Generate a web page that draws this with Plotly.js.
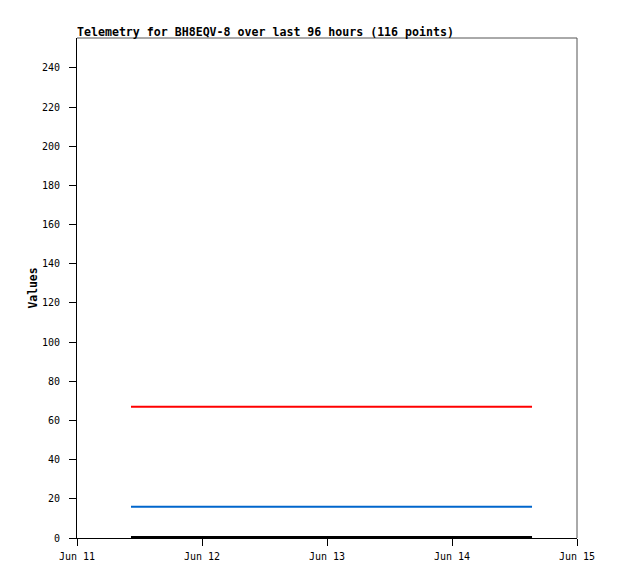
<!DOCTYPE html>
<html>
<head>
<meta charset="utf-8">
<script src="https://cdn.plot.ly/plotly-3.0.1.min.js"></script>
<style>html,body{margin:0;padding:0;background:#fff;}#chart{width:618px;height:579px;}</style>
</head>
<body>
<div id="chart"></div>
<script>
var times = ["2024-06-11 10:22", "2024-06-11 22:00", "2024-06-12 10:00", "2024-06-12 22:00", "2024-06-13 10:00", "2024-06-13 22:00", "2024-06-14 10:00", "2024-06-14 15:22"];
var seriesRed = [67, 67, 67, 67, 67, 67, 67, 67];
var seriesBlue = [16, 16, 16, 16, 16, 16, 16, 16];
var seriesBlack = [0.5, 0.5, 0.5, 0.5, 0.5, 0.5, 0.5, 0.5];
var xTickVals = ["2024-06-11", "2024-06-12", "2024-06-13", "2024-06-14", "2024-06-15"];
var xTickText = ["Jun 11", "Jun 12", "Jun 13", "Jun 14", "Jun 15"];
var yTickVals = [0, 20, 40, 60, 80, 100, 120, 140, 160, 180, 200, 220, 240];

var mono = "DejaVu Sans Mono, monospace";
var traces = [
  {x: times, y: seriesRed, mode: "lines", line: {color: "#ff0000", width: 2}, hoverinfo: "skip"},
  {x: times, y: seriesBlue, mode: "lines", line: {color: "#0066cc", width: 2}, hoverinfo: "skip"},
  {x: times, y: seriesBlack, mode: "lines", line: {color: "#000000", width: 2}, hoverinfo: "skip"}
];
var layout = {
  width: 618, height: 579,
  margin: {l: 77, r: 41, t: 38, b: 41, pad: 0},
  paper_bgcolor: "#fff", plot_bgcolor: "#fff",
  showlegend: false,
  title: {text: "<b>Telemetry for BH8EQV-8 over last 96 hours (116 points)</b>", font: {family: mono, size: 11.6, color: "#000"}, x: 0, xref: "paper", xanchor: "left", y: 1, yref: "paper", yanchor: "bottom", pad: {b: 2}},
  xaxis: {type: "date", range: ["2024-06-11", "2024-06-15"], tickvals: xTickVals, ticktext: xTickText, ticks: "outside", ticklen: 7, tickcolor: "#000", showgrid: false, zeroline: false, showline: true, linecolor: "#000", linewidth: 1, tickfont: {family: mono, size: 10, color: "#000"}, ticklabelstandoff: 2, fixedrange: true},
  yaxis: {range: [0, 255.3], tickvals: yTickVals, ticks: "outside", ticklen: 7, tickcolor: "#000", showgrid: false, zeroline: false, showline: true, linecolor: "#000", linewidth: 1, tickfont: {family: mono, size: 10, color: "#000"}, ticklabelstandoff: 7, title: {text: "<b>Values</b>", font: {family: mono, size: 11.4, color: "#000"}, standoff: 1}, fixedrange: true},
  shapes: [
    {type: "line", xref: "paper", yref: "paper", x0: 0, x1: 1, y0: 1, y1: 1, line: {color: "#555", width: 1}},
    {type: "line", xref: "paper", yref: "paper", x0: 1, x1: 1, y0: 0, y1: 1, line: {color: "#555", width: 1}}
  ]
};
Plotly.newPlot("chart", traces, layout, {displayModeBar: false, staticPlot: true});
</script>
</body>
</html>
